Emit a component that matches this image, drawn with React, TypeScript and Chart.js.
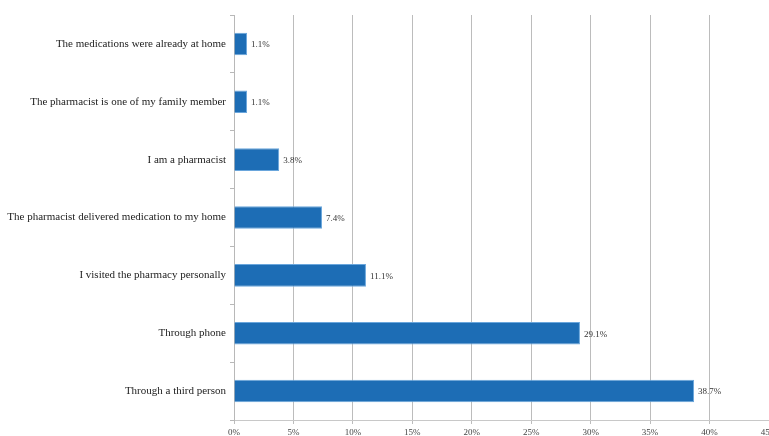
import React, { useEffect, useRef } from "react";
import { Chart, registerables } from "chart.js";

Chart.register(...registerables);

const categories = [
  "The medications were already at home",
  "The pharmacist is one of my family member",
  "I am a pharmacist",
  "The pharmacist delivered medication to my home",
  "I visited the pharmacy personally",
  "Through phone",
  "Through a third person",
];
const values = [1.1, 1.1, 3.8, 7.4, 11.1, 29.1, 38.7];
const valueLabels = ["1.1%", "1.1%", "3.8%", "7.4%", "11.1%", "29.1%", "38.7%"];
const xTicks = [0, 5, 10, 15, 20, 25, 30, 35, 40, 45];

const FONT = "'Liberation Serif', 'Times New Roman', serif";

const valueLabelPlugin = {
  id: "valueLabels",
  afterDatasetsDraw(chart: any) {
    const ctx = chart.ctx;
    const meta = chart.getDatasetMeta(0);
    ctx.save();
    ctx.font = `9px ${FONT}`;
    ctx.fillStyle = "#333";
    ctx.textAlign = "left";
    ctx.textBaseline = "middle";
    meta.data.forEach((bar: any, i: number) => {
      ctx.fillText(valueLabels[i], bar.x + 4, bar.y + 1);
    });
    ctx.restore();
  },
};

export default function App() {
  const ref = useRef<HTMLCanvasElement | null>(null);
  useEffect(() => {
    document.body.style.margin = "0";
    const chart = new Chart(ref.current!, {
      type: "bar",
      data: {
        labels: categories,
        datasets: [
          {
            data: values,
            backgroundColor: "#1d6db5",
            borderColor: "#6aa6dc",
            borderWidth: 1,
            barPercentage: 0.78,
            categoryPercentage: 0.5,
          },
        ],
      },
      options: {
        indexAxis: "y",
        animation: false,
        responsive: false,
        layout: { padding: { top: 15, right: 0, bottom: 0, left: 0 } },
        plugins: { legend: { display: false }, tooltip: { enabled: false } },
        scales: {
          x: {
            min: 0,
            max: 45,
            afterBuildTicks: (s: any) => {
              s.ticks = xTicks.map((v) => ({ value: v }));
            },
            afterFit: (s: any) => {
              s.height = 16;
              s.paddingLeft = 0;
              s.paddingRight = 0;
            },
            ticks: {
              callback: (v: any) => v + "%",
              font: { family: FONT, size: 9 },
              color: "#444",
              padding: 3,
              maxRotation: 0,
              autoSkip: false,
            },
            grid: { color: "#bcbcbc", tickLength: 4, lineWidth: 1 },
            border: { display: true, color: "#c8c8c8" },
          },
          y: {
            afterFit: (s: any) => {
              s.width = 234;
              s.paddingTop = 0;
              s.paddingBottom = 0;
            },
            ticks: {
              font: { family: FONT, size: 11 },
              color: "#222",
              padding: 4,
              autoSkip: false,
            },
            grid: { drawOnChartArea: false, tickLength: 4, color: "#b8b8b8" },
            border: { display: true, color: "#b8b8b8" },
          },
        },
      },
      plugins: [valueLabelPlugin],
    });
    return () => chart.destroy();
  }, []);
  return <canvas ref={ref} width={769} height={436} style={{ display: "block" }} />;
}
